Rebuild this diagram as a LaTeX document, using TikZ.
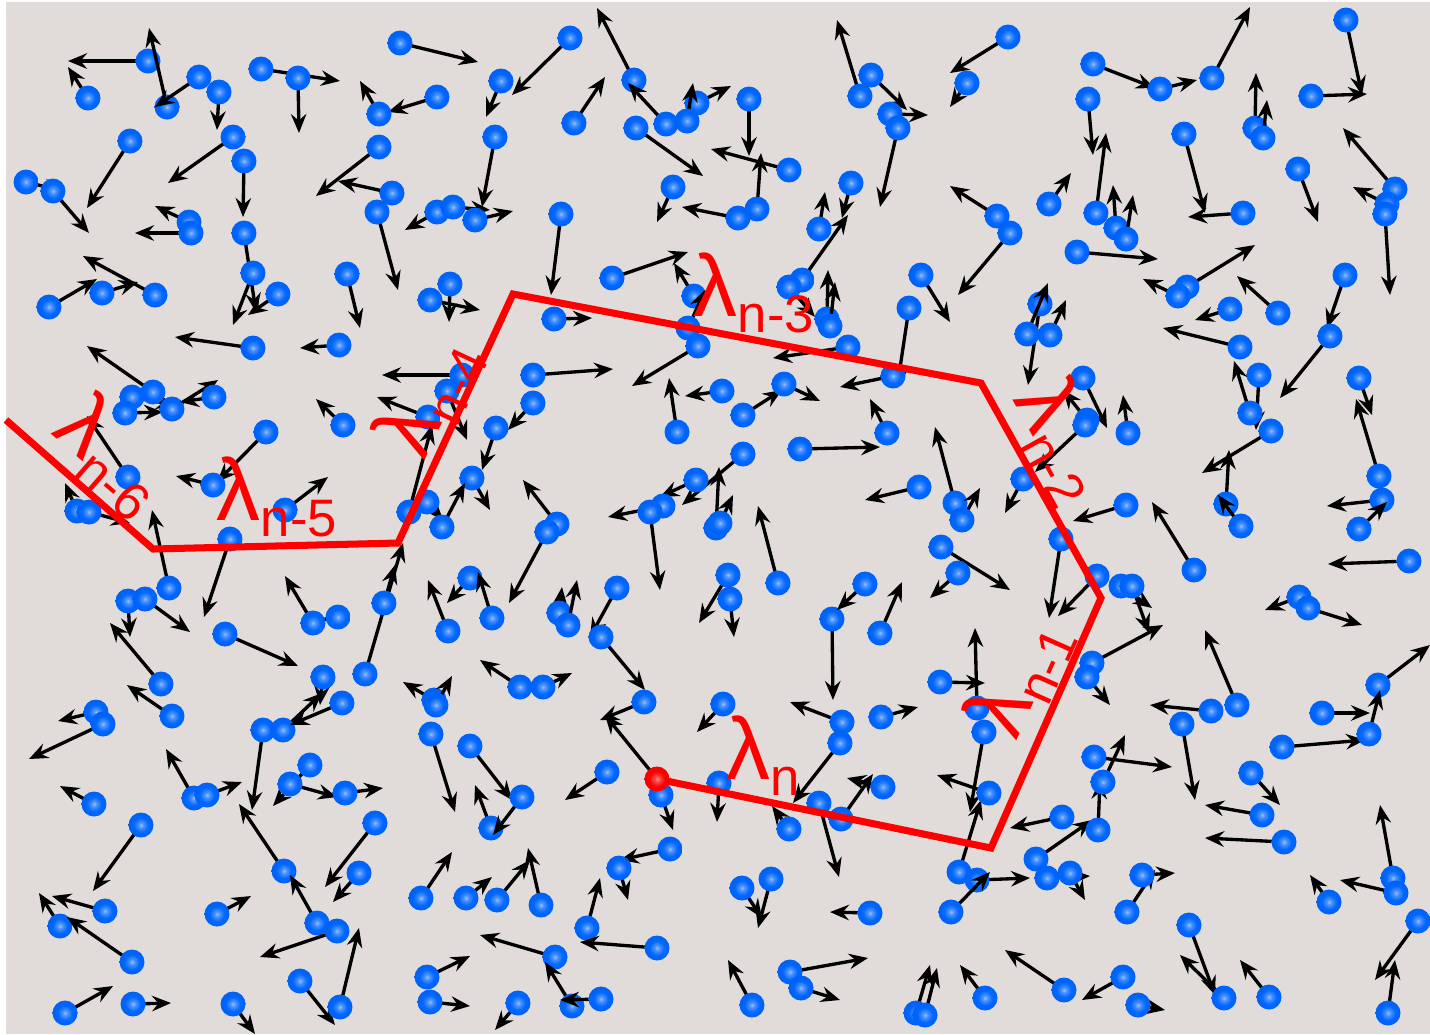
\documentclass[tikz,border=0pt]{standalone}
\usepackage{fontspec}
\setmainfont{Liberation Sans}
\usetikzlibrary{arrows.meta}
\definecolor{bgc}{HTML}{E1DCDA}
\definecolor{ballc}{HTML}{0066FF}
\definecolor{chainc}{HTML}{FF0000}
\pgfdeclareradialshading{bluesph}{\pgfpoint{0bp}{0bp}}{color(0bp)=(ballc!40!white); color(5bp)=(ballc!70!white); color(15bp)=(ballc); color(50bp)=(ballc!85!black)}
\pgfdeclareradialshading{redsph}{\pgfpoint{0bp}{0bp}}{color(0bp)=(chainc!40!white); color(5bp)=(chainc!70!white); color(15bp)=(chainc); color(50bp)=(chainc!85!black)}
\newcommand{\lam}[1]{{\fontsize{25}{25}\selectfont λ}\raisebox{-1.6mm}{\fontsize{15}{15}\selectfont #1}}

\begin{document}
\begin{tikzpicture}[x=0.1mm, y=-0.1mm,
  ball/.style={circle, inner sep=0pt, minimum size=2.5mm, shading=bluesph},
  redball/.style={ball, shading=redsph},
  vec/.style={-{Stealth[length=1.9mm, width=1.55mm, inset=0.65mm]}, line width=0.95pt},
  chain/.style={chainc, line width=2pt, line join=miter},
  lab/.style={text=chainc, inner sep=0pt}]
\useasboundingbox (0,0) rectangle (1430,1034);
\fill[bgc] (6,2) rectangle (1430,1034);
\begin{scope}
\clip (6,2) rectangle (1430,1034);
% particles: position / head of the velocity arrow
\foreach \x/\y/\u/\v [count=\i] in {
  148/61/68/61, 167/107/149/28, 199/77/155/107, 88/98/68/67, 219/92/217/130,
  261/69/340/81, 298/78/299/133, 400/43/478/62, 437/97/388/112, 379/114/360/81,
  130/141/87/208, 233/137/168/183, 244/161/243/217, 379/147/316/196, 392/193/338/181,
  26/182/63/191, 53/191/89/233, 189/222/155/206, 191/233/135/233, 244/233/256/312,
  253/273/233/325, 278/294/248/315, 377/212/398/290, 437/212/405/230, 453/207/490/210,
  475/220/513/211, 102/293/138/282, 49/307/97/279, 155/295/83/256, 347/274/360/328,
  450/284/449/322, 430/300/480/310, 253/348/175/337, 339/345/300/348,
  570/38/512/95, 501/81/486/117, 634/80/597/8, 574/123/605/77, 666/124/628/83,
  697/103/731/86, 687/121/693/83, 636/128/703/176, 749/99/749/156, 789/170/711/149,
  757/209/761/153, 738/218/682/207, 673/187/657/222, 495/137/482/207, 561/214/551/295,
  612/278/688/252, 694/296/674/263, 688/328/705/290, 554/319/592/318, 698/346/632/386,
  802/280/848/215, 789/287/815/317, 819/229/825/192, 851/183/842/218, 827/319/828/270,
  830/326/835/282, 848/347/773/358, 860/96/837/20, 871/75/907/110, 890/114/928/115,
  898/128/880/207, 921/275/950/322, 909/308/897/388,
  1008/37/950/73, 967/83/950/107, 1093/64/1155/88, 1160/89/1197/80, 1212/78/1250/7,
  1346/20/1362/95, 1311/96/1367/94, 1088/99/1093/155, 1255/128/1256/73, 1263/138/1267/100,
  1184/134/1205/213, 1243/213/1188/217, 1096/213/1106/133, 1116/228/1113/185, 1126/239/1133/195,
  1049/204/1071/173, 997/216/950/186, 1010/233/958/295, 1077/252/1158/259, 1298/169/1318/222,
  1395/189/1343/128, 1387/204/1353/187, 1385/214/1390/295, 1187/287/1255/245, 1178/296/1143/279,
  1278/313/1237/276, 1230/309/1195/320, 1345/275/1327/328, 1330/336/1280/398, 1040/304/1028/385,
  1027/334/1048/283, 1050/335/1066/300, 1240/347/1163/328,
  132/397/175/405, 153/392/87/346, 125/413/163/412, 172/409/218/380, 214/397/180/402,
  343/425/316/399, 266/432/217/482, 213/485/176/476, 285/510/328/477, 128/477/87/416,
  77/511/65/483, 89/512/130/523, 169/588/152/510, 230/539/204/617, 128/601/130/637,
  145/599/190/632, 161/684/110/623, 225/634/298/666, 338/617/302/623, 313/623/285/576,
  365/674/403/543, 384/603/395/565, 323/677/320/705, 462/375/382/375, 447/391/467/440,
  428/417/377/397, 472/478/490/510, 409/512/432/425, 427/502/443/520, 442/527/465/483,
  448/631/428/580, 470/578/447/603,
  533/375/613/369, 533/403/508/430, 496/428/482/470, 722/391/685/396, 677/432/669/378,
  743/415/782/390, 784/384/820/401, 893/376/840/387, 887/433/870/399, 800/449/880/447,
  743/454/682/505, 696/480/660/497, 663/506/608/517, 650/512/660/590, 557/524/523/480,
  547/532/509/603, 716/528/719/467, 720/523/733/495, 778/583/758/506, 919/487/865/500,
  955/503/935/427, 962/520/980/488, 941/547/1010/590, 958/573/930/598, 492/618/478/572,
  559/613/562/587, 568/625/577/580, 617/588/590/637, 601/637/645/690, 728/575/699/623,
  730/599/734/637, 832/619/833/700, 865/584/837/610, 880/633/902/582, 940/682/985/683,
  520/687/480/660, 543/687/572/673,
  1083/378/1107/428, 1087/420/1063/390, 1085/425/1035/472, 1128/433/1123/395, 1023/479/1005/513,
  1126/505/1073/521, 1061/539/1049/618, 1097/576/1058/616, 1121/586/1152/608, 1132/586/1149/633,
  1092/663/1163/625, 1087/677/1110/705, 1194/570/1152/502, 1259/375/1256/430, 1250/413/1234/361,
  1271/431/1202/473, 1226/504/1229/450, 1241/526/1218/495, 1359/378/1372/415, 1379/476/1356/399,
  1382/500/1327/506, 1359/529/1387/502, 1409/561/1328/564, 1299/597/1265/610, 1308/608/1362/625,
  1378/685/1430/645, 1237/705/1205/630, 977/708/975/628,
  172/716/127/685, 96/712/58/721, 103/724/29/759, 94/804/60/786, 141/825/93/891,
  105/911/52/896, 60/926/39/893, 132/962/67/917, 65/1013/113/986, 133/1004/171/1003,
  194/798/166/749, 207/795/242/782, 263/730/252/810, 283/730/322/693, 342/703/290/725,
  310/765/273/806, 290/784/337/797, 345/793/383/788, 375/823/325/887, 359/873/333/902,
  284/871/239/804, 317/923/290/875, 337/931/260/957, 300/981/335/1025, 340/1007/359/928,
  217/914/251/896, 233/1004/255/1034, 431/734/455/812, 470/746/512/800, 421/898/452/852,
  466/898/492/877, 427/977/470/956, 430/1002/470/1006, 434/700/403/682, 436/705/452/676,
  491/828/475/785, 522/797/493/835, 497/900/530/860, 541/905/528/848, 607/772/565/800,
  644/702/600/720, 661/795/673/830, 723/704/697/732, 842/722/790/702, 881/717/918/707,
  840/743/793/803, 719/783/717/822, 789/829/772/806, 819/803/839/877, 841/819/873/774,
  883/787/847/778, 670/849/620/860, 984/732/970/812, 959/872/981/800, 989/793/937/775,
  587/928/600/878, 619/868/628/900, 742/888/762/918, 771/879/758/928, 870/913/830/912,
  657/948/580/942, 555/957/480/935, 572/1006/545/962, 601/999/560/1000, 518/1003/495/1030,
  752/1005/728/960, 790/972/868/958, 801/988/840/1000, 916/1013/930/965, 925/1015/937/968,
  977/880/1030/878, 1036/859/1092/820, 1062/817/1010/828, 1047/878/1090/876, 1070/873/1085/900,
  1094/757/1172/767, 1098/830/1100/780, 1103/782/1125/735, 1127/912/1155/870, 1142/875/1175/873,
  1123/977/1082/1000, 1138/1005/1165/1010, 1064/990/1005/950, 985/998/960/965, 951/912/990/872,
  1182/724/1195/800, 1211/711/1150/705, 1251/773/1280/805, 1262/815/1205/805, 1284/842/1205/838,
  1282/747/1365/740, 1322/713/1370/713, 1369/734/1380/690, 1393/878/1380/805, 1396/893/1340/880,
  1329/902/1310/875, 1418/921/1375/980, 1388/1013/1395/960, 1189/925/1215/995, 1224/998/1180/955,
  1269/997/1240/960}
{
  \draw[vec] (\x,\y) -- (\u,\v);
  \node[ball] (p\i) at (\x,\y) {};
}
\end{scope}
% the chain of bonds
\coordinate (c6) at (6,420);
\coordinate (c5) at (153,549);
\coordinate (c4) at (398,543);
\coordinate (c3) at (513,294);
\coordinate (c2) at (981,383);
\coordinate (c1) at (1101,598);
\coordinate (c0) at (991,848);
\coordinate (h) at (605,715);
\draw[chain] (c6) -- (c5) -- (c4) -- (c3) -- (c2) -- (c1) -- (c0) -- (657,779) coordinate (c);
\draw[vec] (c) -- (h);
\node[redball] (r) at (c) {};
\node[lab, rotate=-41] (l6) at (111,455) {\lam{n-6}};
\node[lab] (l5) at (277,497) {\lam{n-5}};
\node[lab, rotate=65] (l4) at (428,397) {\lam{n-4}};
\node[lab] (l3) at (754,293) {\lam{n-3}};
\node[lab, rotate=-61] (l2) at (1062,440) {\lam{n-2}};
\node[lab, rotate=66] (l1) at (1019,677) {\lam{n-1}};
\node[lab] (l0) at (763,756) {\lam{n}};
\end{tikzpicture}
\end{document}
